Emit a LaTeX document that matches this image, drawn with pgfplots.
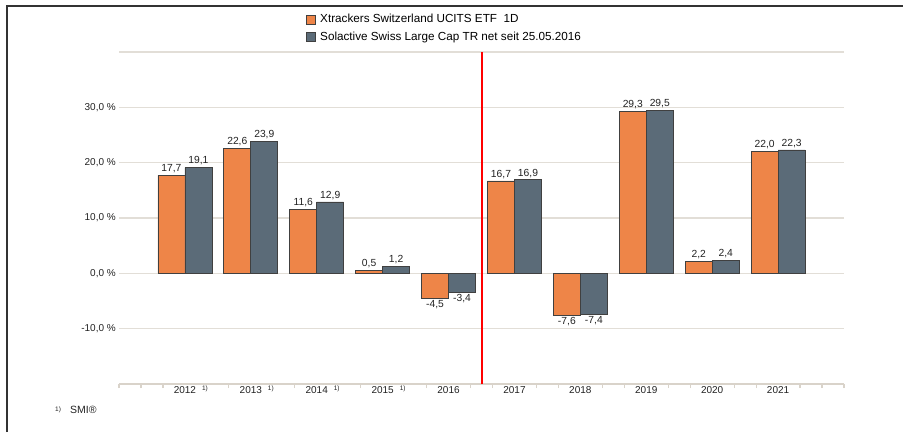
\documentclass[border=0pt]{standalone}
\usepackage{fontspec}
\setmainfont{Liberation Sans}
\usepackage{pgfplots}
\pgfplotsset{compat=1.18}
\definecolor{barOrange}{HTML}{EE8548}
\definecolor{barGray}{HTML}{5B6B78}
\definecolor{gridC}{HTML}{E2DED7}
\definecolor{axisC}{HTML}{D9D3CA}
\definecolor{txt}{HTML}{222222}
\newcommand{\fn}{\rlap{\hspace{6pt}\raisebox{3pt}{\fontsize{6.5}{7}\selectfont 1)}}}
\begin{document}
\begin{tikzpicture}[x=1pt,y=1pt]
\useasboundingbox (0,0) rectangle (903,432);
\begin{axis}[
  at={(119pt,48pt)}, anchor=south west,
  scale only axis, width=725pt, height=332pt,
  xmin=-1, xmax=10, ymin=-20, ymax=40,
  ybar=0pt, bar width=27pt,
  axis x line*=bottom, axis y line*=left,
  y axis line style={draw=none},
  x axis line style={axisC, line width=2pt},
  ytick={-10,0,10,20,30,40},
  yticklabels={{-10,0 \%},{0,0 \%},{10,0 \%},{20,0 \%},{30,0 \%},{}},
  ytick style={draw=none},
  ymajorgrids, grid style={gridC, line width=1.5pt},
  yticklabel style={font=\fontsize{10}{12}\selectfont, text=txt, inner sep=1pt, xshift=-2pt},
  xtick={0,...,9},
  xticklabels={2012\fn,2013\fn,2014\fn,2015\fn,2016,2017,2018,2019,2020,2021},
  major tick length=0pt,
  xtick style={draw=axisC, line width=1.2pt},
  xticklabel style={font=\fontsize{10}{12}\selectfont, text=txt, inner sep=1pt, yshift=-1pt},
  extra x ticks={-1,-0.6667,-0.3333,0.6667,1.6667,2.6667,3.6667,4.3333,4.6667,5.3333,5.6667,6.3333,6.6667,7.3333,7.6667,8.3333,8.6667,9.3333,9.6667,10},
  extra x tick labels={},
  extra x tick style={major tick length=4pt, tick align=outside, tick style={draw=axisC, line width=1.2pt}},
  nodes near coords,
  nodes near coords style={font=\fontsize{10.3}{12}\selectfont, text=txt, inner sep=2pt},
  /pgf/number format/.cd, use comma, fixed, fixed zerofill, precision=1, assume math mode=true,
  /pgfplots/.cd,
  legend style={at={(0.257,1.12)}, anchor=north west, draw=none, fill=none,
    font=\fontsize{11.7}{13}\selectfont, row sep=4pt, inner sep=0pt,
    /tikz/every odd column/.append style={column sep=3pt}},
  legend cell align=left,
  legend image code/.code={\draw[#1,draw=black!75,line width=0.7pt] (0pt,-4.5pt) rectangle (9pt,4.5pt);},
]
\addplot[fill=barOrange, draw=black!75, line width=0.8pt] coordinates {
(0,17.7) (1,22.6) (2,11.6) (3,0.5) (4,-4.5) (5,16.7) (6,-7.6) (7,29.3) (8,2.2) (9,22.0)};
\addplot[fill=barGray, draw=black!75, line width=0.8pt] coordinates {
(0,19.1) (1,23.9) (2,12.9) (3,1.2) (4,-3.4) (5,16.9) (6,-7.4) (7,29.5) (8,2.4) (9,22.3)};
\legend{Xtrackers Switzerland UCITS ETF\ \ 1D, Solactive Swiss Large Cap TR net seit 25.05.2016}
\addplot[sharp plot, draw=red, line width=2pt, no marks, nodes near coords={}, forget plot, bar shift=0pt]
  coordinates {(4.5,-20) (4.5,40)};
\end{axis}
\draw[line width=1.5pt, black!80] (7,0) -- (7,426) -- (903,426);
\node[anchor=base west, inner sep=0pt, font=\fontsize{6.5}{7}\selectfont, text=txt] at (55,21) {1)};
\node[anchor=base west, inner sep=0pt, font=\fontsize{10.5}{12}\selectfont, text=txt] at (70,19) {SMI®};
\end{tikzpicture}
\end{document}
